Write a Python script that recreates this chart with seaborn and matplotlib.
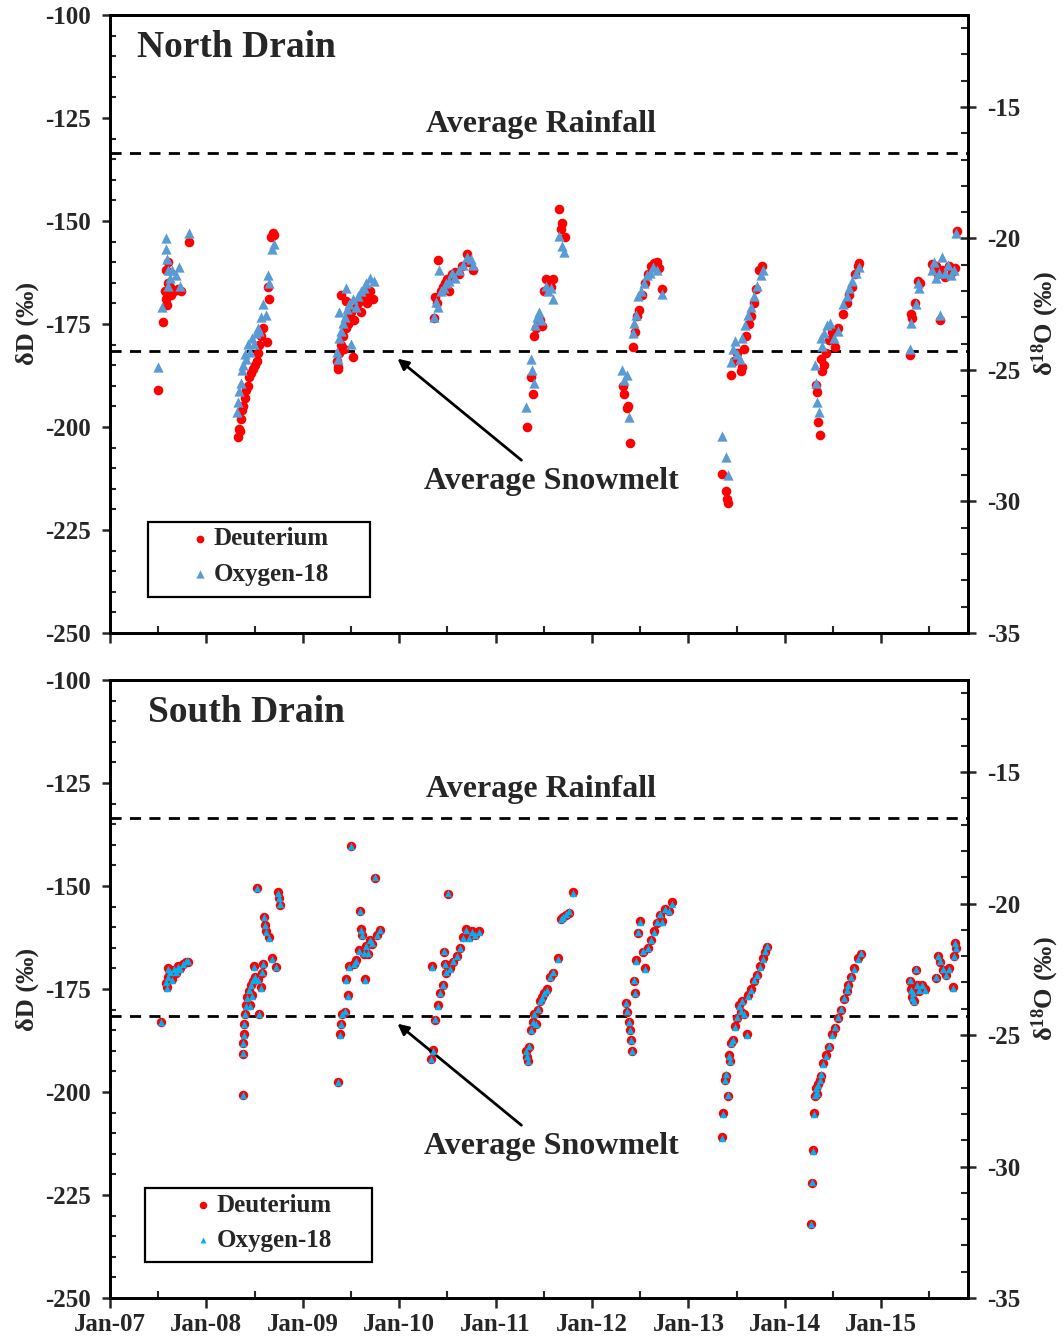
import matplotlib
matplotlib.use("Agg")
import matplotlib.pyplot as plt
from matplotlib.ticker import MultipleLocator, FixedLocator
from matplotlib.patches import Rectangle
import seaborn as sns

# ---------------- data (decimal year, per mil) ----------------
north_d_year = [2007.50, 2007.55, 2007.57, 2007.58, 2007.60, 2007.62, 2007.63, 2007.66, 2007.70, 2007.74, 2007.58, 2007.60, 2007.59, 2007.82,
                2008.33, 2008.34, 2008.35, 2008.36, 2008.37, 2008.38, 2008.40, 2008.41, 2008.43, 2008.44, 2008.46, 2008.48, 2008.50, 2008.52,
                2008.53, 2008.55, 2008.57, 2008.59, 2008.63, 2008.64, 2008.65, 2008.67, 2008.69, 2008.70,
                2009.35, 2009.36, 2009.37, 2009.38, 2009.40, 2009.42, 2009.43, 2009.45, 2009.47, 2009.48, 2009.50, 2009.52, 2009.53, 2009.55,
                2009.57, 2009.60, 2009.62, 2009.64, 2009.67, 2009.70, 2009.73, 2009.40, 2009.45,
                2010.36, 2010.37, 2010.39, 2010.40, 2010.43, 2010.45, 2010.47, 2010.50, 2010.52, 2010.55, 2010.58, 2010.62, 2010.65, 2010.70,
                2010.72, 2010.76,
                2011.33, 2011.37, 2011.39, 2011.40, 2011.42, 2011.44, 2011.46, 2011.48, 2011.50, 2011.52, 2011.55, 2011.57, 2011.60, 2011.66,
                2011.69, 2011.68, 2011.72,
                2012.32, 2012.33, 2012.36, 2012.37, 2012.39, 2012.42, 2012.45, 2012.47, 2012.49, 2012.52, 2012.55, 2012.58, 2012.61, 2012.64,
                2012.67, 2012.69, 2012.73,
                2013.35, 2013.39, 2013.40, 2013.41, 2013.44, 2013.47, 2013.50, 2013.54, 2013.56, 2013.58, 2013.60, 2013.63, 2013.65, 2013.68,
                2013.70, 2013.73, 2013.76,
                2014.32, 2014.33, 2014.34, 2014.36, 2014.37, 2014.39, 2014.41, 2014.43, 2014.46, 2014.49, 2014.52, 2014.55, 2014.60, 2014.64,
                2014.67, 2014.70, 2014.73, 2014.76, 2014.77,
                2015.30, 2015.31, 2015.32, 2015.35, 2015.38, 2015.40, 2015.53, 2015.55, 2015.57, 2015.59, 2015.61, 2015.63, 2015.66, 2015.70,
                2015.73, 2015.76, 2015.79]
north_d_value = [-191.0, -174.5, -167, -169, -165, -166, -168, -167, -166.5, -167, -162, -160, -170.5, -155,
                 -202.5, -200.5, -201, -198, -196, -195, -193, -191, -190, -188, -187, -186, -185, -184,
                 -182, -180, -178, -176, -179.5, -166, -169, -154, -153, -153.5,
                 -184, -185.5, -186, -182, -180, -178, -181, -176, -175, -173, -172, -183, -174, -171,
                 -170, -172, -169, -168, -170, -167, -169, -168, -169.5,
                 -173.5, -168.5, -170, -159.5, -167, -166, -165, -164, -167, -163, -162.5, -163, -161, -158,
                 -160, -162,
                 -200, -188, -192, -178, -176, -175, -174, -175.5, -167, -164, -164.5, -166, -164, -147,
                 -150.5, -152, -154,
                 -190, -192, -195.5, -195, -204, -180.5, -177, -173, -171.5, -168, -165, -163, -161, -160.3,
                 -160, -161.5, -166.5,
                 -211.5, -215.5, -217.5, -218.5, -187.5, -184, -182, -186.5, -185.5, -181, -178, -175, -173, -170,
                 -166.5, -162, -161,
                 -189.8, -191.5, -198.8, -202, -183.5, -186.5, -185, -182, -179, -177, -180.5, -176, -172.5, -170,
                 -168, -166, -163, -161, -160.3,
                 -182.5, -172.5, -173.5, -170, -164.5, -165, -160.5, -162, -161, -163, -174, -162, -163.5, -161,
                 -162.5, -161.5, -152.5]

north_o_year = [2007.50, 2007.54, 2007.58, 2007.58, 2007.59, 2007.60, 2007.62, 2007.60, 2007.64, 2007.68, 2007.72, 2007.73, 2007.82,
                2008.32, 2008.33, 2008.34, 2008.36, 2008.37, 2008.38, 2008.40, 2008.41, 2008.43, 2008.45, 2008.47, 2008.49, 2008.51, 2008.53,
                2008.55, 2008.57, 2008.59, 2008.62, 2008.64, 2008.65, 2008.68, 2008.70,
                2009.35, 2009.36, 2009.38, 2009.40, 2009.42, 2009.44, 2009.46, 2009.48, 2009.50, 2009.52, 2009.55, 2009.57, 2009.60, 2009.63,
                2009.66, 2009.70, 2009.74, 2009.45, 2009.38,
                2010.36, 2010.38, 2010.40, 2010.41, 2010.43, 2010.46, 2010.48, 2010.52, 2010.55, 2010.58, 2010.62, 2010.66, 2010.70, 2010.74,
                2010.76,
                2011.32, 2011.37, 2011.38, 2011.40, 2011.41, 2011.43, 2011.45, 2011.47, 2011.52, 2011.54, 2011.57, 2011.60, 2011.66, 2011.69,
                2011.71,
                2012.31, 2012.33, 2012.36, 2012.38, 2012.42, 2012.44, 2012.46, 2012.48, 2012.51, 2012.54, 2012.57, 2012.60, 2012.63, 2012.67,
                2012.73,
                2013.35, 2013.39, 2013.41, 2013.44, 2013.46, 2013.48, 2013.50, 2013.53, 2013.56, 2013.59, 2013.62, 2013.65, 2013.68, 2013.71,
                2013.75, 2013.77,
                2014.31, 2014.32, 2014.33, 2014.35, 2014.37, 2014.39, 2014.41, 2014.44, 2014.47, 2014.51, 2014.55, 2014.60, 2014.64, 2014.67,
                2014.70, 2014.74, 2014.77,
                2015.30, 2015.31, 2015.36, 2015.38, 2015.39, 2015.53, 2015.55, 2015.57, 2015.60, 2015.61, 2015.63, 2015.66, 2015.69, 2015.72,
                2015.75, 2015.78]
north_o_value = [-24.9, -22.6, -20.0, -20.4, -20.8, -21.2, -21.5, -21.8, -21.2, -21.4, -21.1, -21.8, -19.8,
                 -26.6, -26.2, -25.8, -25.5, -25.0, -24.8, -24.4, -24.6, -24.0, -24.3, -23.8, -24.0, -23.6, -23.4,
                 -23.5, -23.0, -22.5, -22.9, -21.4, -21.7, -20.4, -20.2,
                 -24.3, -24.6, -23.8, -23.5, -23.2, -23.0, -22.7, -22.5, -24.0, -22.3, -22.6, -22.2, -22.0, -21.9,
                 -21.7, -21.5, -21.6, -21.9, -22.8,
                 -23.0, -22.4, -22.6, -21.2, -22.0, -21.9, -21.7, -21.6, -21.3, -21.5, -21.2, -21.0, -20.7, -20.8,
                 -21.0,
                 -26.4, -24.6, -25.0, -25.5, -23.3, -23.0, -22.8, -23.1, -21.8, -22.0, -21.9, -22.3, -19.9, -20.3,
                 -20.5,
                 -25.0, -25.4, -25.2, -26.8, -23.6, -23.2, -22.9, -22.2, -22.0, -21.7, -21.4, -21.3, -21.1, -21.2,
                 -22.1,
                 -27.5, -28.3, -29.0, -24.7, -24.2, -23.9, -24.4, -24.6, -23.8, -23.3, -22.9, -22.6, -22.2, -21.8,
                 -21.4, -21.2,
                 -24.8, -25.5, -26.2, -26.6, -23.8, -24.1, -23.6, -23.3, -23.2, -23.8, -23.5, -22.5, -22.2, -21.9,
                 -21.6, -21.3, -21.1,
                 -24.2, -23.2, -22.5, -21.7, -21.9, -21.2, -20.9, -21.5, -21.3, -22.9, -20.7, -21.3, -21.0, -21.4,
                 -21.2, -19.8]

south_year = [2007.53, 2007.58, 2007.59, 2007.60, 2007.62, 2007.64, 2007.66, 2007.68, 2007.70, 2007.73, 2007.76, 2007.79, 2007.81, 2007.60,
              2008.38, 2008.38, 2008.38, 2008.39, 2008.39, 2008.40, 2008.41, 2008.42, 2008.44, 2008.46, 2008.48, 2008.50, 2008.49, 2008.52,
              2008.55, 2008.57, 2008.58, 2008.59, 2008.60, 2008.61, 2008.62, 2008.65, 2008.68, 2008.72, 2008.74, 2008.75, 2008.76, 2008.45,
              2008.47, 2008.53,
              2009.37, 2009.39, 2009.40, 2009.41, 2009.44, 2009.47, 2009.45, 2009.48, 2009.50, 2009.53, 2009.55, 2009.58, 2009.59, 2009.60,
              2009.61, 2009.63, 2009.64, 2009.66, 2009.68, 2009.70, 2009.72, 2009.75, 2009.77, 2009.80,
              2010.33, 2010.35, 2010.34, 2010.37, 2010.40, 2010.42, 2010.45, 2010.46, 2010.47, 2010.49, 2010.51, 2010.53, 2010.56, 2010.60,
              2010.63, 2010.66, 2010.69, 2010.72, 2010.75, 2010.79, 2010.83,
              2011.32, 2011.33, 2011.34, 2011.35, 2011.37, 2011.39, 2011.40, 2011.42, 2011.44, 2011.46, 2011.48, 2011.50, 2011.53, 2011.56,
              2011.60, 2011.65, 2011.68, 2011.70, 2011.73, 2011.76, 2011.80,
              2012.35, 2012.36, 2012.38, 2012.39, 2012.40, 2012.41, 2012.44, 2012.45, 2012.46, 2012.48, 2012.50, 2012.53, 2012.55, 2012.58,
              2012.61, 2012.64, 2012.67, 2012.70, 2012.73, 2012.76, 2012.80, 2012.83,
              2013.35, 2013.36, 2013.38, 2013.39, 2013.41, 2013.42, 2013.43, 2013.44, 2013.46, 2013.48, 2013.50, 2013.52, 2013.54, 2013.56,
              2013.58, 2013.61, 2013.62, 2013.65, 2013.68, 2013.71, 2013.74, 2013.77, 2013.79, 2013.81,
              2014.27, 2014.28, 2014.29, 2014.30, 2014.31, 2014.32, 2014.33, 2014.34, 2014.36, 2014.38, 2014.40, 2014.43, 2014.46, 2014.49,
              2014.52, 2014.55, 2014.58, 2014.61, 2014.64, 2014.66, 2014.69, 2014.72, 2014.76, 2014.79,
              2015.30, 2015.31, 2015.32, 2015.33, 2015.34, 2015.36, 2015.37, 2015.39, 2015.42, 2015.45, 2015.57, 2015.59, 2015.61, 2015.64,
              2015.67, 2015.70, 2015.74, 2015.75, 2015.77, 2015.78]
south_d_value = [-183, -173.5, -174.5, -172, -171, -172.5, -170.5, -171, -169.5, -170, -169, -168.5, -168.5, -170,
                 -200.7, -190.8, -188, -186, -183.5, -181, -179, -177, -175.5, -174, -173, -172, -169.5, -150.5,
                 -181, -174.5, -171, -169, -157.5, -159.5, -161, -162.5, -167.5, -169.7, -151.5, -153, -154.5, -179,
                 -176.5, -172.5,
                 -197.5, -186, -183.5, -181, -180.5, -176.5, -172.5, -169.5, -140.3, -169, -168, -165.5, -156, -160.5,
                 -162, -166.5, -172.5, -164.5, -166.5, -163, -164, -148, -162, -160.8,
                 -192, -189.8, -169.5, -182.5, -179, -176, -174, -166, -169, -171, -152, -170, -168.5, -167,
                 -165, -162.5, -160.5, -162.5, -161, -162, -161,
                 -190, -191.5, -192.5, -189, -185, -183, -181, -183.5, -180, -178, -177, -176, -175, -172,
                 -171, -167.5, -158, -157.5, -157, -156.5, -151.5,
                 -178.5, -180.5, -183, -185, -187.5, -190, -173, -176, -168, -161.5, -158.5, -166, -170, -165,
                 -163, -161, -159, -157, -158.5, -155.5, -156, -154,
                 -211, -205, -197, -196, -201, -191, -192.5, -188, -187.5, -184, -182, -179, -180.5, -178,
                 -181, -186, -176.5, -175, -173, -171.5, -169.5, -167.5, -166, -164.8,
                 -232, -222, -214, -205, -201, -199, -200.5, -198, -197, -196, -193, -191, -189, -186,
                 -184.5, -182, -180, -177.5, -175.5, -174, -172, -170, -167.5, -166.5,
                 -173, -175, -177, -176, -178, -170.5, -174, -175.5, -174, -175, -172.3, -167, -168.5, -170.5,
                 -171.5, -170, -174.5, -167, -163.8, -165]
south_o_value = [-24.5, -23.0, -23.2, -22.8, -22.6, -22.9, -22.5, -22.6, -22.4, -22.5, -22.3, -22.2, -22.2, -22.5,
                 -27.3, -25.7, -25.3, -25.0, -24.6, -24.2, -23.9, -23.6, -23.3, -23.1, -22.9, -22.8, -22.4, -19.4,
                 -24.2, -23.2, -22.6, -22.3, -20.5, -20.8, -21.1, -21.3, -22.1, -22.4, -19.6, -19.8, -20.0, -23.9,
                 -23.5, -22.9,
                 -26.8, -25.0, -24.6, -24.2, -24.1, -23.5, -22.9, -22.4, -17.8, -22.3, -22.2, -21.8, -20.3, -21.0,
                 -21.2, -21.9, -22.9, -21.6, -21.9, -21.4, -21.5, -19.0, -21.2, -21.0,
                 -25.9, -25.6, -22.4, -24.4, -23.9, -23.4, -23.1, -21.8, -22.3, -22.6, -19.6, -22.5, -22.2, -22.0,
                 -21.7, -21.3, -21.0, -21.3, -21.1, -21.2, -21.1,
                 -25.6, -25.8, -26.0, -25.4, -24.8, -24.5, -24.2, -24.6, -24.0, -23.7, -23.6, -23.4, -23.3, -22.8,
                 -22.6, -22.1, -20.6, -20.5, -20.4, -20.3, -19.6,
                 -23.8, -24.1, -24.5, -24.8, -25.2, -25.6, -22.9, -23.4, -22.2, -21.1, -20.7, -21.8, -22.5, -21.7,
                 -21.4, -21.1, -20.7, -20.4, -20.7, -20.2, -20.3, -20.0,
                 -28.9, -28.0, -26.7, -26.5, -27.3, -25.8, -26.0, -25.3, -25.2, -24.7, -24.3, -23.9, -24.1, -23.7,
                 -24.2, -25.0, -23.5, -23.3, -22.9, -22.7, -22.4, -22.1, -21.8, -21.6,
                 -32.2, -30.6, -29.4, -28.0, -27.3, -27.0, -27.2, -26.9, -26.7, -26.5, -26.1, -25.8, -25.4, -25.0,
                 -24.7, -24.3, -24.0, -23.6, -23.3, -23.1, -22.8, -22.5, -22.1, -21.9,
                 -22.9, -23.3, -23.6, -23.4, -23.7, -22.5, -23.1, -23.3, -23.1, -23.3, -22.8, -22.0, -22.2, -22.5,
                 -22.7, -22.5, -23.2, -22.0, -21.5, -21.7]

year_ticks = [2007, 2008, 2009, 2010, 2011, 2012, 2013, 2014, 2015]
year_labels = ["Jan-07", "Jan-08", "Jan-09", "Jan-10", "Jan-11", "Jan-12", "Jan-13", "Jan-14", "Jan-15"]
avg_rainfall_dD = -133.5
avg_snowmelt_dD = -181.5

# ---------------- style ----------------
sns.set_style("ticks")
plt.rcParams['font.family'] = ['Liberation Serif', 'DejaVu Serif']
plt.rcParams['font.weight'] = 'bold'
plt.rcParams['axes.labelweight'] = 'bold'
plt.rcParams['axes.unicode_minus'] = False
plt.rcParams['mathtext.fontset'] = 'custom'
plt.rcParams['mathtext.rm'] = 'Liberation Serif:bold'
plt.rcParams['mathtext.it'] = 'Liberation Serif:italic:bold'
plt.rcParams['mathtext.bf'] = 'Liberation Serif:bold'

RED = '#FF0000'
X0, X1 = 2007.0, 2015.9
TICK_FS = 18

fig = plt.figure(figsize=(10.64, 13.43), dpi=100)
ax_top = fig.add_axes([0.1034, 0.5287, 0.8064, 0.4602])
ax_bot = fig.add_axes([0.1034, 0.0335, 0.8064, 0.4602])


def draw_panel(ax, d_year, d_val, o_year, o_val, tri_color, circ_s, tri_s, name, name_x,
               show_xlabels, box, leg_anchor):
    ax2 = ax.twinx()
    ax.axhline(avg_rainfall_dD, color='black', ls=(0, (4, 3)), lw=2, zorder=1)
    ax.axhline(avg_snowmelt_dD, color='black', ls=(0, (4, 3)), lw=2, zorder=1)
    sns.scatterplot(x=d_year, y=d_val, ax=ax, color=RED, marker='o', s=circ_s,
                    linewidth=0, legend=False, zorder=3)
    sns.scatterplot(x=o_year, y=o_val, ax=ax2, color=tri_color, marker='^', s=tri_s,
                    linewidth=0, legend=False, zorder=3)
    ax.set_xlim(X0, X1)
    ax.set_ylim(-250, -100)
    ax2.set_ylim(-35, -11.5)
    ax.xaxis.set_major_locator(FixedLocator(year_ticks))
    ax.xaxis.set_minor_locator(MultipleLocator(0.5))
    ax.set_xticklabels(year_labels if show_xlabels else [])
    ax.yaxis.set_major_locator(MultipleLocator(25))
    ax.yaxis.set_minor_locator(MultipleLocator(5))
    ax2.yaxis.set_major_locator(MultipleLocator(5))
    ax2.yaxis.set_minor_locator(MultipleLocator(1))
    ax.tick_params(axis='y', which='major', direction='out', length=6, width=1.8,
                   labelsize=TICK_FS, pad=8)
    ax.tick_params(axis='y', which='minor', direction='in', length=4, width=1.5)
    ax.tick_params(axis='x', which='major', direction='out', length=7, width=1.8,
                   labelsize=TICK_FS, pad=4)
    ax.tick_params(axis='x', which='minor', direction='in', length=5, width=1.5)
    ax2.tick_params(axis='y', which='major', direction='inout', length=12, width=1.8,
                    labelsize=TICK_FS, pad=8)
    ax2.tick_params(axis='y', which='minor', direction='in', length=5, width=1.5)
    for a in (ax, ax2):
        for sp in a.spines.values():
            sp.set_linewidth(2)
            sp.set_color('black')
    ax.set_xlabel('')
    ax.set_ylabel('δD (‰)', fontsize=19, fontweight='bold')
    ax.yaxis.set_label_coords(-0.083, 0.5)
    ax2.set_ylabel('δ$^{18}$O (‰)', fontsize=19, fontweight='bold')
    ax2.yaxis.set_label_coords(1.072, 0.5)
    ax.text(name_x, 0.947, name, transform=ax.transAxes, fontsize=27, fontweight='bold',
            ha='left', va='center')
    ax.text(2011.47, -126.5, 'Average Rainfall', fontsize=23, fontweight='bold',
            ha='center', va='center')
    ax.text(2011.58, -213.2, 'Average Snowmelt', fontsize=23, fontweight='bold',
            ha='center', va='center')
    ax.annotate('', xy=(2009.96, -183.0), xytext=(2011.29, -208.5),
                arrowprops=dict(arrowstyle='-|>', color='black', lw=2, mutation_scale=16))
    # legend frame box
    ax2.add_patch(Rectangle((box[0], box[1]), box[2], box[3], transform=ax2.transAxes,
                            facecolor='white', edgecolor='black', lw=1.6, zorder=9))
    handles = [ax.collections[0], ax2.collections[0]]
    leg = ax2.legend(handles, ['Deuterium', 'Oxygen-18'], loc='upper left',
                     bbox_to_anchor=leg_anchor, borderaxespad=0, borderpad=0,
                     fontsize=18, frameon=False, handletextpad=0.05, handlelength=1.0,
                     labelspacing=0.5, markerscale=0.8)
    leg.set_zorder(10)
    return ax2


draw_panel(ax_top, north_d_year, north_d_value, north_o_year, north_o_value,
           '#5B9BD5', 48, 55, 'North Drain', 0.031, False,
           (0.044, 0.058, 0.259, 0.122), (0.090, 0.171))
draw_panel(ax_bot, south_year, south_d_value, south_year, south_o_value,
           '#00B0F0', 46, 28, 'South Drain', 0.044, True,
           (0.041, 0.058, 0.264, 0.120), (0.094, 0.169))

fig.savefig('out.png', dpi=100)
